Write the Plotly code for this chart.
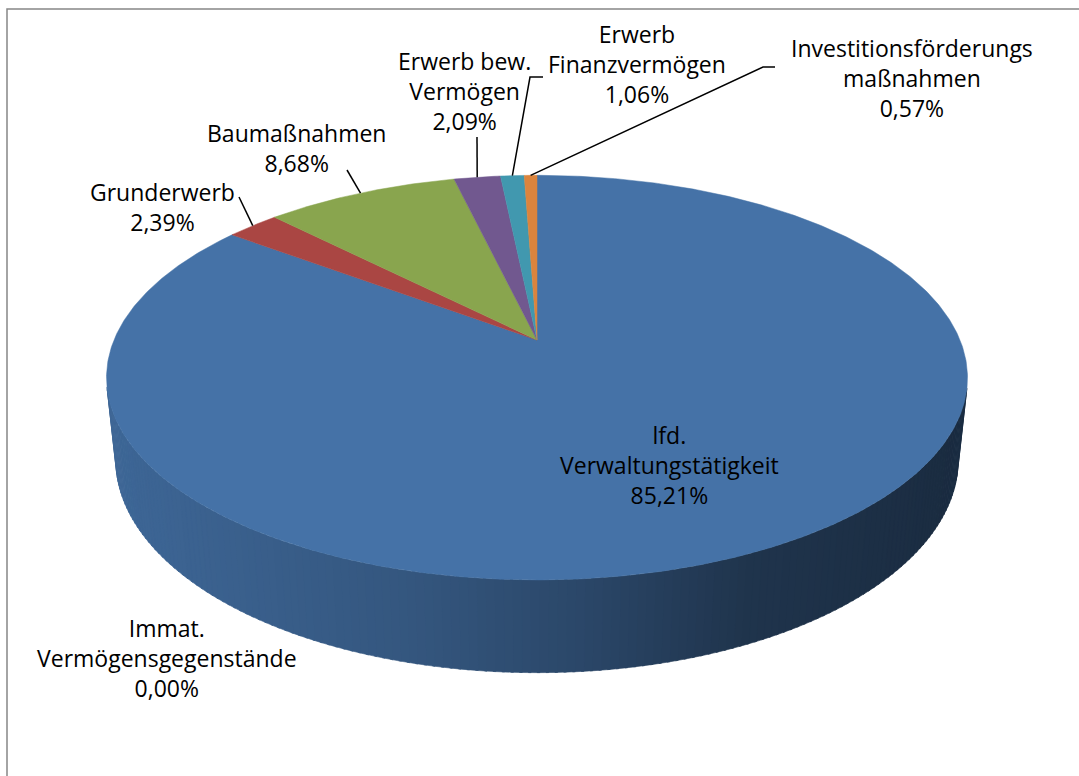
import numpy as np
import plotly.graph_objects as go

# === Daten ===
categories = [
    "lfd. Verwaltungstätigkeit",
    "Immat. Vermögensgegenstände",
    "Grunderwerb",
    "Baumaßnahmen",
    "Erwerb bew. Vermögen",
    "Erwerb Finanzvermögen",
    "Investitionsförderungsmaßnahmen",
]
values = [85.21, 0.00, 2.39, 8.68, 2.09, 1.06, 0.57]
label_names = [
    "lfd.<br>Verwaltungstätigkeit",
    "Immat.<br>Vermögensgegenstände",
    "Grunderwerb",
    "Baumaßnahmen",
    "Erwerb bew.<br>Vermögen",
    "Erwerb<br>Finanzvermögen",
    "Investitionsförderungs<br>maßnahmen",
]

# === Farben (Excel 3D) ===
COLORS = ["#4572A7", "#4572A7", "#AA4643", "#89A54E", "#71588F", "#4198AF", "#DB843D"]
W, H = 1079, 776

# === Perspektive ===
PHI = np.radians(27.5)   # Blickwinkel
DIST = 4.77              # Kameraabstand (in Radien)
K = 423                  # Skalierung
CX, CY = 537, 340        # Mittelpunkt Oberseite
THICK = 0.22             # Höhe der Scheibe

# Label-Positionen (Pixel) und Knick-Punkte der Führungslinien
LABEL_POS = {
    0: (669, 465), 1: (167, 658), 2: (162, 207), 3: (296, 148),
    4: (464, 91), 5: (637, 64), 6: (912, 78),
}
LEADER = {
    2: [(239, 197)],
    3: [(347, 170)],
    4: [(477, 137)],
    5: [(543, 77), (530, 77)],
    6: [(775, 67), (763, 67)],
}


def proj(theta_deg, y=0.0, r=1.0):
    t = np.radians(theta_deg)
    X, Z = r * np.sin(t), r * np.cos(t)
    depth = DIST - y * np.sin(PHI) + Z * np.cos(PHI)
    up = y * np.cos(PHI) + Z * np.sin(PHI)
    s = DIST / depth
    return CX + K * X * s, CY - K * up * s


def shade(hex_color, f):
    h = hex_color.lstrip("#")
    r, g, b = (int(h[i:i + 2], 16) for i in (0, 2, 4))
    return f"rgb({int(r * f)},{int(g * f)},{int(b * f)})"


fig = go.Figure()

total = sum(values)
bounds = np.concatenate([[0], np.cumsum(values) / total * 360])

# Seitenwand (nur sichtbarer vorderer Teil), Farbverlauf nach x
vis_lim = np.degrees(np.arccos(-1 / (DIST * np.cos(PHI))))
step = 1.0
xl, _ = proj(270)
xr, _ = proj(90)
for i, v in enumerate(values):
    a0, a1 = bounds[i], bounds[i + 1]
    lo, hi = max(a0, vis_lim), min(a1, 360 - vis_lim)
    if hi <= lo:
        continue
    edges = np.arange(lo, hi, step).tolist() + [hi]
    for e0, e1 in zip(edges[:-1], edges[1:]):
        arc = np.linspace(e0, e1 + 0.3, 4)
        tx, ty = proj(arc, 0)
        bx, by = proj(arc[::-1], -THICK)
        xs = np.concatenate([tx, bx, tx[:1]])
        ys = np.concatenate([ty, by, ty[:1]])
        t = (np.mean(tx) - xl) / (xr - xl)
        f = np.interp(t, [0, 0.35, 0.55, 0.75, 1.0], [0.9, 0.76, 0.63, 0.46, 0.39])
        c = shade(COLORS[i], f)
        fig.add_trace(go.Scatter(
            x=xs, y=ys, mode="lines", fill="toself",
            fillcolor=c, line=dict(color=c, width=0.6),
            hoverinfo="skip", showlegend=False,
        ))

# Oberseite
for i, v in enumerate(values):
    if v <= 0:
        continue
    a0, a1 = bounds[i], bounds[i + 1]
    arc = np.linspace(a0, a1, max(int((a1 - a0) * 2), 3))
    ax, ay = proj(arc, 0)
    xs = np.concatenate([[CX], ax, [CX]])
    ys = np.concatenate([[CY], ay, [CY]])
    fig.add_trace(go.Scatter(
        x=xs, y=ys, mode="lines", fill="toself",
        fillcolor=COLORS[i], line=dict(color=COLORS[i], width=0.5),
        name=categories[i], hoverinfo="name", showlegend=False,
    ))

# Führungslinien
for i, pts in LEADER.items():
    mid = (bounds[i] + bounds[i + 1]) / 2
    ex, ey = proj(mid, 0)
    xs = [p[0] for p in pts] + [ex]
    ys = [p[1] for p in pts] + [ey]
    fig.add_trace(go.Scatter(
        x=xs, y=ys, mode="lines", line=dict(color="black", width=1.5),
        hoverinfo="skip", showlegend=False,
    ))

# Beschriftungen
for i, v in enumerate(values):
    pct = f"{v / total * 100:.2f}".replace(".", ",") + "%"
    lx, ly = LABEL_POS[i]
    fig.add_annotation(
        x=lx, y=ly, xref="x", yref="y",
        text=f"{label_names[i]}<br>{pct}",
        showarrow=False, align="center",
        font=dict(family="Open Sans", size=23, color="black"),
    )

fig.add_shape(
    type="rect", xref="x", yref="y", x0=7, y0=9, x1=W + 20, y1=H + 20,
    line=dict(color="#878787", width=1.5), fillcolor="rgba(0,0,0,0)",
)

fig.update_layout(
    width=W, height=H,
    margin=dict(l=0, r=0, t=0, b=0),
    paper_bgcolor="white", plot_bgcolor="white",
    xaxis=dict(range=[0, W], visible=False, fixedrange=True),
    yaxis=dict(range=[H, 0], visible=False, fixedrange=True),
    showlegend=False,
)

# Seitenrand des Browsers entfernen, keine Modebar
fig.write_html(
    "out.html",
    config={"displayModeBar": False},
    post_script="document.body.style.margin='0';document.body.style.overflow='hidden';",
)
